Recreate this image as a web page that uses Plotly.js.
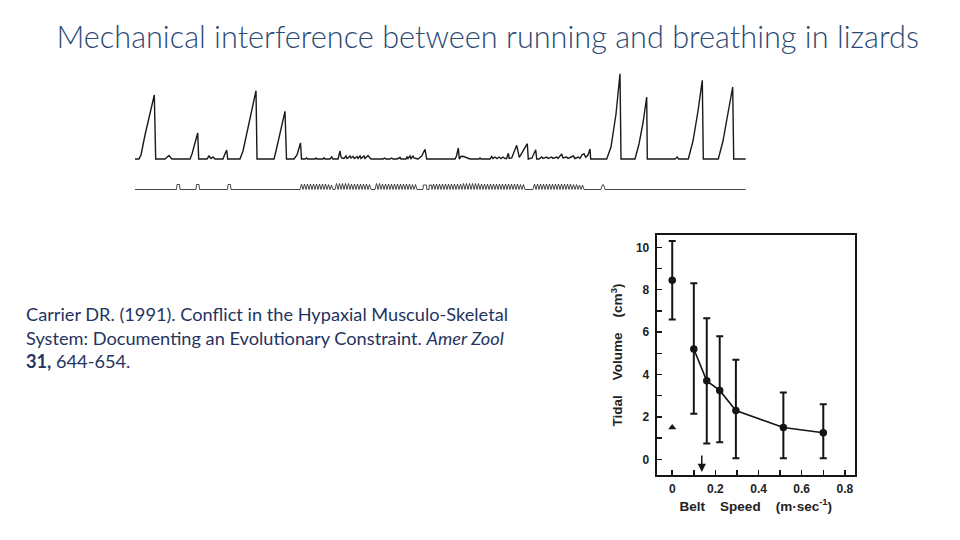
<!DOCTYPE html>
<html>
<head>
<meta charset="utf-8">
<script src="https://cdn.plot.ly/plotly-3.0.1.min.js"></script>
<style>html,body{margin:0;padding:0;background:#fff;}#chart{width:960px;height:540px;}</style>
</head>
<body>
<div id="chart"></div>
<script>
// ---------- Breathing recording (time in arbitrary units, amplitude relative to baseline) ----------
const breathTrace = [
  [0,0],[4,0],[6,4],[10,24],[19.3,64],[20.7,0],[30,0],[32,2],[34,3.5],[36,1],[37,0],
  [55,0],[57,5],[62.7,26],[63.7,0],[72,0],[74,3],[76,0.5],[78,2],[80,0],[88,0],[89.5,4],[91.7,9],[92.7,0],
  [105,0],[108,8],[114,36],[121,68.3],[122,0],[139,0],[141,8],[150,47.7],[151.5,0],
  [159,0],[162,4],[164,10],[165.5,16],[166.5,0],
  [170,0],[171.7,1],[172.5,0],[180,0],[181,1],[182,0],[188,0],[189,1.2],[190,0],[195,0],[196.7,2],[198,0],
  [203,0],[205,8],[206,2],[207,1],[209,0.5],[211,3],[212,0.5],[213,1],[215,3],[216,1],[218,2.5],[219.5,0.5],
  [222,2.5],[223,0.5],[225,3],[226,0.5],[229,3],[230,0.5],[233,3.5],[235,1],[236,0],
  [248,0],[250,1],[251,0],[255,0],[256.7,1],[258,0],[262,0],[265,1.5],[266,0],[271,0],[272,2],[273,0.5],
  [275,3],[276,0.5],[278,3],[279,1],[281,0.5],[283,0],[286.7,3],[290,9.7],[291.7,0],
  [320,0],[321.5,3],[323.3,11],[324.3,0],[326,2.5],[328,2.7],[332,1.5],[335,0],[344,0],[345,1],[346,0],
  [355,0],[356.7,2.5],[358,0.5],[360,2],[362,0.5],[364,2],[366,0.5],[368,2],[370,0.5],
  [371.7,0.5],[373.3,5.7],[374.3,0.5],[376.7,1],[381.7,13.7],[384.3,1.7],[392.3,15.3],[393.3,0],
  [397,1],[400.7,9.3],[401.7,0],[404,0],[406.7,2],[408,0.5],[411.7,2],[413,0.5],[416.7,2],[418,0.5],
  [421.7,2],[423,0.5],[426.7,5],[428,1],[431.7,2],[433,0.5],[438.3,3],[440,0.5],[443.3,2],[445,0.5],
  [446.7,3.7],[449,5.3],[450.7,1.7],[453,4],[455,10],[455.7,0],
  [471.7,0],[476,12],[481,45],[485,85.3],[486,0],[500,0],[504,15],[508,36],[511.7,62],[512.3,0],
  [540,0],[542.3,2],[543.5,0],[553.3,0],[558,18],[563,48],[567.3,78.7],[568.3,0],
  [583.3,0],[588,18],[593,46],[597.7,72],[598.7,0],[610.7,0]
];
const strideTrace = [
  [0,-30.5],[41.5,-30.5],[42,-25.5],[44.5,-25.5],[45,-30.5],[61,-30.5],[61.5,-25.5],[64,-25.5],[64.5,-30.5],
  [92.5,-30.5],[93,-25.5],[95.5,-25.5],[96,-30.5],
  [165,-30.5],[166.5,-25],[168,-30.5],[169.5,-25],[171,-30.5],[172.5,-25],[174,-30.5],[175.5,-25],[177,-30.5],
  [178.5,-25],[180,-30.5],[181.5,-25],[183,-30.5],[184.5,-25],[186,-30.5],[187.5,-25],[189,-30.5],[190.5,-25],
  [192,-30.5],[193.5,-25.5],[195,-30.5],[196.5,-26],[198,-30.5],
  [200,-30.5],[201.5,-24.5],[203,-30.5],[204.5,-24.5],[206,-30.5],[207.5,-24.5],[209,-30.5],[210.5,-24.5],
  [212,-30.5],[213.5,-24.5],[215,-30.5],[216.5,-25],[218,-30.5],[219.5,-25],[221,-30.5],[222.5,-25],[224,-30.5],
  [225.5,-25],[227,-30.5],[228.5,-25],[230,-30.5],[231.5,-25],[233,-30.5],[234.5,-25.5],[236,-30.5],
  [240,-30.5],[241.5,-24.5],[243,-30.5],[244.5,-24.5],[246,-30.5],[247.5,-25],[249,-30.5],[250.5,-25],
  [252,-30.5],[253.5,-25],[255,-30.5],[256.5,-25],[258,-30.5],[259.5,-25],[261,-30.5],[262.5,-25],[264,-30.5],
  [265.5,-25],[267,-30.5],[268.5,-25],[270,-30.5],[271.5,-25],[273,-30.5],[274.5,-25],[276,-30.5],
  [277.5,-25.5],[279,-30.5],[280.5,-25.5],[282,-30.5],
  [288,-30.5],[288.3,-26],[291.5,-26],[291.8,-30.5],[294,-30.5],[294.3,-26],[296.5,-26],[296.8,-30.5],
  [297,-30.5],[298.5,-25],[300,-30.5],[301.5,-25],[303,-30.5],[304.5,-25],[306,-30.5],[307.5,-25],[309,-30.5],
  [310.5,-25],[312,-30.5],[313.5,-25],[315,-30.5],[316.5,-25],[318,-30.5],[319.5,-25],[321,-30.5],[322.5,-25],
  [324,-30.5],[325.5,-25],[327,-30.5],[328.5,-24.5],[330,-30.5],[331.5,-24.5],[333,-30.5],[334.5,-24.5],
  [336,-30.5],[337.5,-24.5],[339,-30.5],[340.5,-24.5],[342,-30.5],[343.5,-24.5],[345,-30.5],[346.5,-25],
  [348,-30.5],[349.5,-25],[351,-30.5],[352.5,-25],[354,-30.5],[355.5,-25],[357,-30.5],[358.5,-25],[360,-30.5],
  [361.5,-25],[363,-30.5],[364.5,-25],[366,-30.5],[367.5,-25],[369,-30.5],[370.5,-25],[372,-30.5],[373.5,-25],
  [375,-30.5],[376.5,-25],[378,-30.5],[379.5,-25],[381,-30.5],[382.5,-25],[384,-30.5],[385.5,-25.5],[387,-30.5],
  [388.5,-25.5],[390,-30.5],
  [398,-30.5],[399.5,-25],[401,-30.5],[402.5,-25],[404,-30.5],[405.5,-25],[407,-30.5],[408.5,-25],[410,-30.5],
  [411.5,-25],[413,-30.5],[414.5,-25],[416,-30.5],[417.5,-25],[419,-30.5],[420.5,-25],[422,-30.5],[423.5,-25],
  [425,-30.5],[426.5,-25],[428,-30.5],[429.5,-25],[431,-30.5],[432.5,-25],[434,-30.5],[435.5,-25],[437,-30.5],
  [438.5,-25.5],[440,-30.5],[441.5,-25.5],[443,-30.5],[444.5,-26],[446,-30.5],[447.5,-26],[449,-30.5],
  [466,-30.5],[467,-27],[468,-25.5],[469,-27],[470,-30.5],[610.7,-30.5]
];

// ---------- Tidal volume vs belt speed ----------
const beltSpeed   = [0, 0.1, 0.16, 0.22, 0.295, 0.515, 0.70];
const tidalVolume = [8.45, 5.2, 3.7, 3.25, 2.3, 1.5, 1.25];
const tidalUpper  = [10.3, 8.3, 6.65, 5.8, 4.7, 3.15, 2.6];
const tidalLower  = [6.6, 2.15, 0.75, 0.8, 0.05, 0.05, 0.05];
const restSpeed   = [0];
const restTidal   = [1.5];
const arrowSpeed  = [0.137];
const xTickVals   = [0, 0.2, 0.4, 0.6, 0.8];
const xTickText   = ['0', '0.2', '0.4', '0.6', '0.8'];
const yTickVals   = [0, 2, 4, 6, 8, 10];
const yTickText   = ['0', '2', '4', '6', '8', '10'];

const errPlus  = tidalUpper.map((u, i) => u - tidalVolume[i]);
const errMinus = tidalLower.map((l, i) => tidalVolume[i] - l);

const ink = '#151515';
const tickFont = {family: 'Liberation Sans, Arial, sans-serif', size: 12, color: '#222', weight: 'bold'};
const axisTitleFont = {family: 'Liberation Sans, Arial, sans-serif', size: 13.5, color: '#222', weight: 'bold'};
const sp = '\u00a0\u00a0\u00a0\u00a0';

const traces = [
  {x: breathTrace.map(p => p[0]), y: breathTrace.map(p => p[1]), xaxis: 'x2', yaxis: 'y2',
   mode: 'lines', line: {color: '#1a1a1a', width: 1.4}, hoverinfo: 'skip'},
  {x: strideTrace.map(p => p[0]), y: strideTrace.map(p => p[1]), xaxis: 'x2', yaxis: 'y2',
   mode: 'lines', line: {color: '#333', width: 0.9}, hoverinfo: 'skip'},
  {x: beltSpeed.slice(1), y: tidalVolume.slice(1), mode: 'lines+markers',
   line: {color: ink, width: 1.6}, marker: {color: ink, size: 7.5, symbol: 'circle'},
   error_y: {type: 'data', symmetric: false, array: errPlus.slice(1), arrayminus: errMinus.slice(1),
             color: ink, thickness: 2, width: 3.5}},
  {x: beltSpeed.slice(0, 1), y: tidalVolume.slice(0, 1), mode: 'markers',
   marker: {color: ink, size: 7.5, symbol: 'circle'},
   error_y: {type: 'data', symmetric: false, array: errPlus.slice(0, 1), arrayminus: errMinus.slice(0, 1),
             color: ink, thickness: 2, width: 3.5}},
  {x: restSpeed, y: restTidal, mode: 'markers', marker: {color: ink, size: 7, symbol: 'triangle-up'}}
];

const layout = {
  width: 960, height: 540,
  margin: {l: 0, r: 0, t: 0, b: 0},
  paper_bgcolor: '#ffffff', plot_bgcolor: 'rgba(0,0,0,0)',
  showlegend: false,
  title: {
    text: 'Mechanical interference between running and breathing in lizards',
    font: {family: 'Lato, Carlito, Open Sans, sans-serif', size: 30.7, color: '#2C4A74', weight: 300},
    x: 0.508, xanchor: 'center', xref: 'paper', y: 1 - 37 / 540, yanchor: 'middle', yref: 'container'
  },
  xaxis: {
    domain: [656.7 / 960, 855 / 960], range: [-0.072, 0.847], anchor: 'y',
    tickmode: 'array', tickvals: xTickVals, ticktext: xTickText, tickangle: 0,
    ticks: 'inside', ticklen: 5, tickwidth: 1.5, tickcolor: ink,
    minor: {tickmode: 'linear', tick0: 0, dtick: 0.1, ticks: 'inside', ticklen: 5, tickwidth: 1.5, tickcolor: ink},
    showline: true, mirror: true, linecolor: ink, linewidth: 2,
    showgrid: false, zeroline: false, tickfont: tickFont, ticklabelstandoff: 2,
    title: {text: 'Belt' + sp + 'Speed' + sp + '(m\u00b7sec<sup>-1</sup>)', font: axisTitleFont, standoff: 6}
  },
  yaxis: {
    domain: [1 - 475 / 540, 1 - 235 / 540], range: [-0.74, 10.58], anchor: 'x',
    tickmode: 'array', tickvals: yTickVals, ticktext: yTickText, tickangle: 0,
    ticks: 'inside', ticklen: 5, tickwidth: 1.5, tickcolor: ink,
    minor: {tickmode: 'linear', tick0: 0, dtick: 1, ticks: 'inside', ticklen: 5, tickwidth: 1.5, tickcolor: ink},
    showline: true, mirror: true, linecolor: ink, linewidth: 2,
    showgrid: false, zeroline: false, tickfont: tickFont, ticklabelstandoff: 3,
    title: {text: 'Tidal' + sp + 'Volume' + sp + '(cm<sup>3</sup>)', font: axisTitleFont, standoff: 10}
  },
  xaxis2: {domain: [130 / 960, 760 / 960], range: [-5, 625], anchor: 'y2', visible: false, fixedrange: true},
  yaxis2: {domain: [1 - 200 / 540, 1 - 65 / 540], range: [-41, 94], anchor: 'x2', visible: false, fixedrange: true},
  annotations: [
    {xref: 'paper', yref: 'paper', x: 24 / 960, y: 1 - 337 / 540, xanchor: 'left', yanchor: 'middle', align: 'left',
     showarrow: false,
     text: 'Carrier DR. (1991). Conflict in the Hypaxial Musculo-Skeletal<br>System: Documenting an Evolutionary Constraint. <i>Amer Zool</i><br><b>31,</b> 644-654.',
     font: {family: 'Lato, Carlito, Open Sans, sans-serif', size: 18.2, color: '#1F3461'}},
    {xref: 'x', yref: 'y', axref: 'x', ayref: 'y', x: arrowSpeed[0], y: -0.6, ax: arrowSpeed[0], ay: 0.25,
     showarrow: true, arrowhead: 2, arrowsize: 1.1, arrowwidth: 1.5, arrowcolor: ink, text: ''}
  ]
};

Plotly.newPlot('chart', traces, layout, {displayModeBar: false, staticPlot: true});
</script>
</body>
</html>
